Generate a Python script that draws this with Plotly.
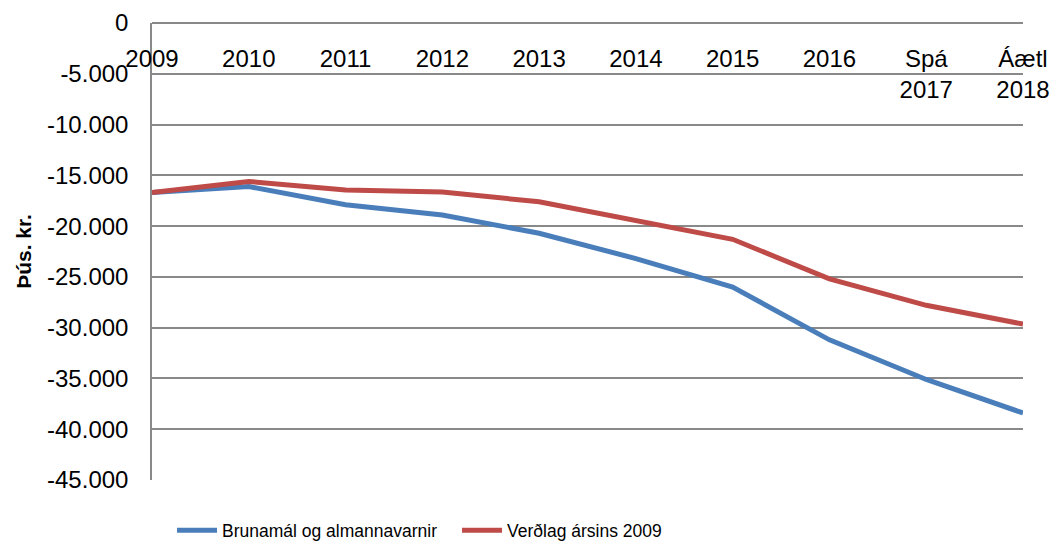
import plotly.graph_objects as go

categories = ["2009", "2010", "2011", "2012", "2013", "2014", "2015", "2016", "Spá<br>2017", "Áætl<br>2018"]
brunamal = [-16700, -16100, -17900, -18900, -20700, -23200, -26000, -31200, -35100, -38400]
verdlag = [-16700, -15600, -16450, -16650, -17600, -19400, -21300, -25200, -27800, -29650]
y_ticks = [0, -5000, -10000, -15000, -20000, -25000, -30000, -35000, -40000, -45000]
y_ticktext = [f"{v:,}".replace(",", ".") for v in y_ticks]

FONT = "Liberation Sans"
GRID = "#898989"

fig = go.Figure()
fig.add_trace(go.Scatter(x=categories, y=brunamal, mode="lines", name="Brunamál og almannavarnir",
                         line=dict(color="#4A7EBB", width=5), cliponaxis=False))
fig.add_trace(go.Scatter(x=categories, y=verdlag, mode="lines", name="Verðlag ársins 2009",
                         line=dict(color="#BE4B48", width=5), cliponaxis=False))

fig.update_layout(
    width=1052, height=547,
    margin=dict(l=152, r=29, t=23, b=67, autoexpand=False),
    paper_bgcolor="white", plot_bgcolor="white",
    font=dict(family=FONT, size=24, color="black"),
    showlegend=True,
    legend=dict(orientation="h", x=0.023, xanchor="left", y=-0.071, yanchor="top",
                xref="paper", font=dict(family=FONT, size=17.5), itemwidth=40,
                entrywidth=230, entrywidthmode="pixels"),
    xaxis=dict(type="category", range=[0, 9], side="bottom", anchor="free", position=1,
               showline=False, showgrid=False, ticks="", tickfont=dict(size=24),
               ticklabelstandoff=19, automargin=False),
    yaxis=dict(range=[-45000, 0], tickvals=y_ticks, ticktext=y_ticktext, showgrid=True,
               gridcolor=GRID, gridwidth=1.5, zeroline=True, zerolinecolor=GRID,
               zerolinewidth=1.5, showline=True, linecolor=GRID, linewidth=1.5,
               ticks="", tickfont=dict(size=24), ticklabelstandoff=17, automargin=False,
               title=dict(text="<b>Þús. kr.</b>", font=dict(size=21), standoff=10)),
)
fig.write_html("out.html", config={"displayModeBar": False},
               post_script="document.body.style.margin='0';")
